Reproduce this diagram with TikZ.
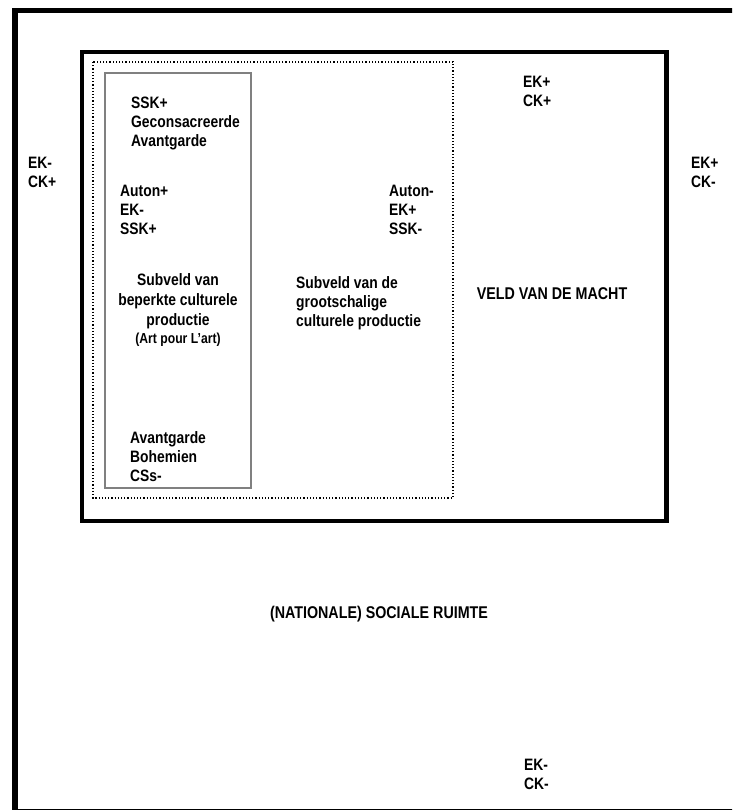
\documentclass[tikz,border=0pt]{standalone}
\usepackage{fontspec}
\setmainfont{Liberation Sans}[FakeStretch=0.84]
\usetikzlibrary{positioning}

\begin{document}
\begin{tikzpicture}[x=1pt,y=-1pt,
  lbl/.style={font=\fontsize{16.5}{19}\selectfont\bfseries,align=left,inner sep=0pt,anchor=west},
  ctr/.style={font=\fontsize{16.5}{20}\selectfont\bfseries,align=center,inner sep=0pt}]
\useasboundingbox (0,0) rectangle (732,810);
\clip (0,0) rectangle (732,810);
% frames
\draw[line width=5.5pt] (15,10.5) rectangle (745,812);
\draw[line width=4.5pt] (82,52) rectangle (666.5,521);
\draw[dotted,line width=1.2pt] (93,62) rectangle (453,498);
\draw[black!50,line width=1.8pt] (105,73) rectangle (251,488);
% social space
\node[lbl] (ekckL) at (28,172.5) {EK-\\CK+};
\node[lbl] (ekckR) at (691,172.5) {EK+\\CK-};
\node[lbl] (ekckB) at (524,774) {EK-\\CK-};
\node[ctr,font=\fontsize{17}{20}\selectfont\bfseries] (ruimte) at (379,614) {(NATIONALE) SOCIALE RUIMTE};
% field of power
\node[lbl] (ekckT) at (523,91) {EK+\\CK+};
\node[ctr,font=\fontsize{17}{20}\selectfont\bfseries] (macht) at (552,294) {VELD VAN DE MACHT};
% restricted production
\node[lbl] (consacr) at (131,123) {SSK+\\Geconsacreerde\\Avantgarde};
\node[lbl] (autonP) at (120,210) {Auton+\\EK-\\SSK+};
\node[ctr] (beperkt) at (178,301) {Subveld van\\beperkte culturele\\productie};
\node[ctr,font=\fontsize{14.5}{16}\selectfont\bfseries,below=4pt of beperkt] (artpour) {(Art pour L'art)};
\node[lbl] (boheme) at (130,457) {Avantgarde\\Bohemien\\CSs-};
% large-scale production
\node[lbl] (groot) at (296,303) {Subveld van de\\grootschalige\\culturele productie};
\node[lbl] (autonM) at (389,210) {Auton-\\EK+\\SSK-};
\end{tikzpicture}
\end{document}
